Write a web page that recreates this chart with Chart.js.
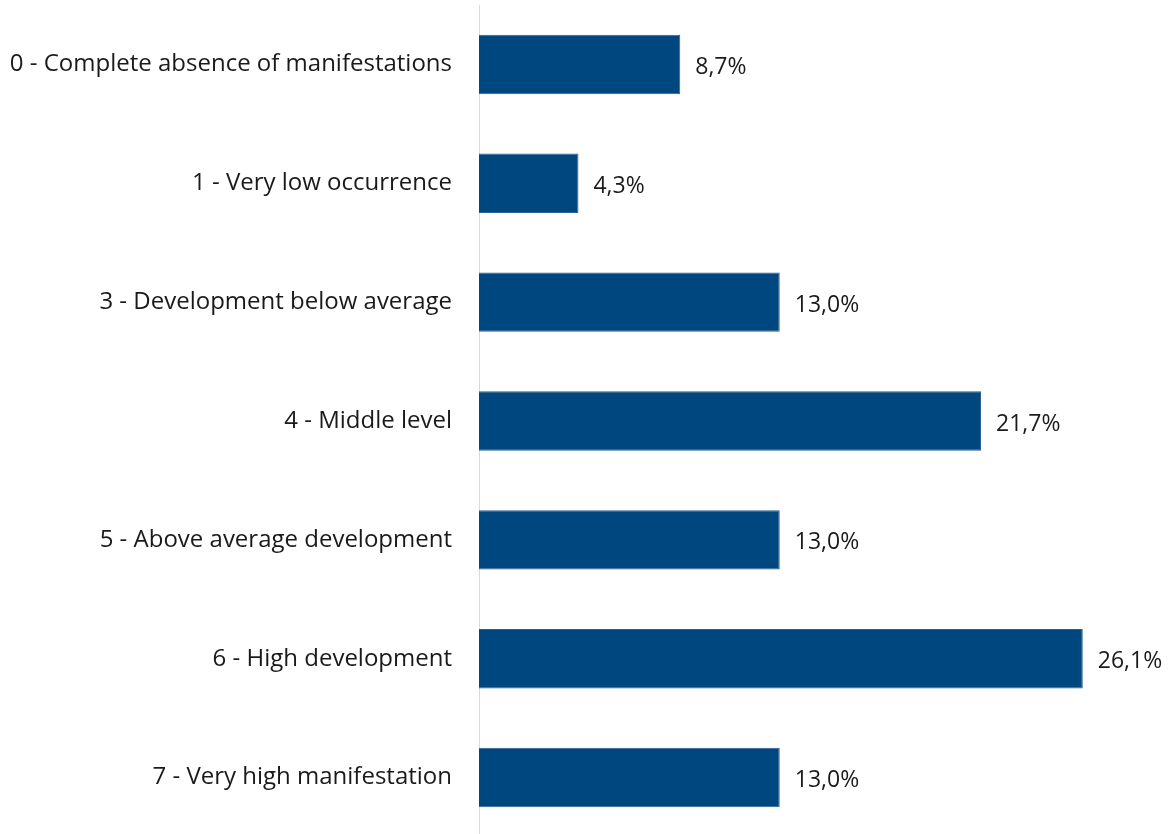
<!DOCTYPE html>
<html lang="en">
<head>
  <meta charset="UTF-8">
  <title>Distribution by level</title>
  <script src="https://cdn.jsdelivr.net/npm/chart.js"></script>
  <style>
    html, body { margin: 0; padding: 0; background: #fff; overflow: hidden; }
    #wrap { width: 1174px; height: 837px; }
  </style>
</head>
<body>
<div id="wrap"><canvas id="grafico"></canvas></div>
<script>
  // categorias e valores (%)
  const categorias = [
    '0 - Complete absence of manifestations',
    '1 - Very low occurrence',
    '3 - Development below average',
    '4 - Middle level',
    '5 - Above average development',
    '6 - High development',
    '7 - Very high manifestation'
  ];
  const valores = [8.7, 4.3, 13.0, 21.7, 13.0, 26.1, 13.0];

  // rótulos no fim de cada barra
  const rotulosBarras = {
    id: 'rotulosBarras',
    afterDatasetsDraw(chart) {
      const ctx = chart.ctx;
      const meta = chart.getDatasetMeta(0);
      ctx.save();
      ctx.font = '23px "Open Sans"';
      ctx.fillStyle = '#1a1a1a';
      ctx.textAlign = 'left';
      ctx.textBaseline = 'middle';
      meta.data.forEach((bar, i) => {
        const txt = valores[i].toFixed(1).replace('.', ',') + '%';
        ctx.fillText(txt, bar.x + 15, bar.y + 3);
      });
      ctx.restore();
    }
  };

  new Chart(document.getElementById('grafico'), {
    type: 'bar',
    data: {
      labels: categorias,
      datasets: [{
        data: valores,
        backgroundColor: '#00477f',
        borderColor: '#2a5f92',
        borderWidth: 1,
        barPercentage: 0.5,
        categoryPercentage: 1
      }]
    },
    options: {
      indexAxis: 'y',
      responsive: true,
      maintainAspectRatio: false,
      animation: false,
      layout: { padding: { top: 5, bottom: 0, left: 0, right: 1 } },
      plugins: {
        legend: { display: false },
        tooltip: { enabled: false }
      },
      scales: {
        x: {
          display: false,
          min: 0,
          max: 30
        },
        y: {
          afterFit(scale) {
            scale.width = 479;
            scale.paddingTop = 0;
            scale.paddingBottom = 0;
          },
          grid: { display: false, drawTicks: false },
          border: { display: true, color: '#d9d9d9', width: 1 },
          ticks: {
            padding: 27,
            color: '#1a1a1a',
            font: { family: '"Open Sans"', size: 24 }
          }
        }
      }
    },
    plugins: [rotulosBarras]
  });
</script>
</body>
</html>
